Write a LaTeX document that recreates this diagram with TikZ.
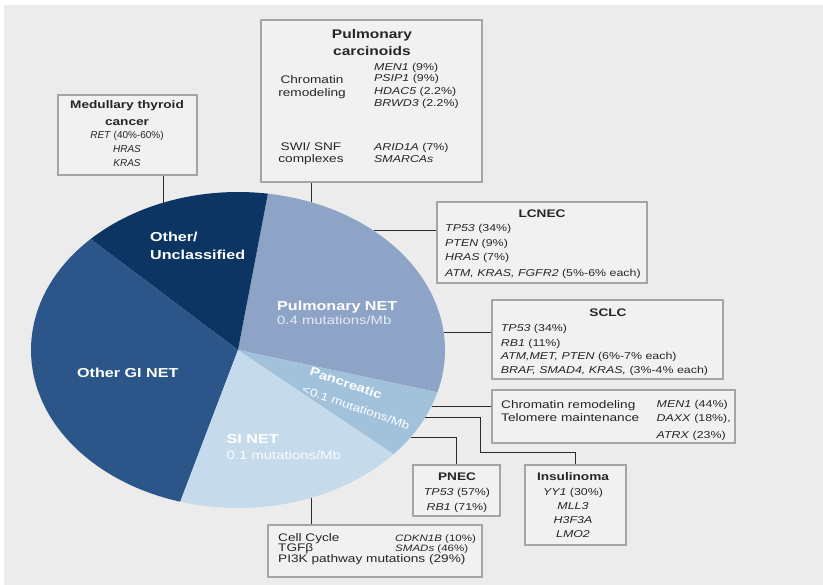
\documentclass[tikz,border=0pt]{standalone}
\usepackage{fontspec}
\setmainfont{Liberation Sans}[FakeStretch=1.24]
\newfontfamily\condfont{Liberation Sans}
\usetikzlibrary{shadows,calc}
\definecolor{bgc}{HTML}{ECECED}
\definecolor{boxfill}{HTML}{F1F1F1}
\definecolor{boxedge}{HTML}{A5A5A5}
\definecolor{txt}{HTML}{262626}
\definecolor{linec}{HTML}{2A2A2A}
\definecolor{cunc}{HTML}{0D3564}
\definecolor{cgi}{HTML}{2C5689}
\definecolor{cpulm}{HTML}{8EA4C6}
\definecolor{cpanc}{HTML}{A2C2DB}
\definecolor{csi}{HTML}{C5DBEB}
\definecolor{subc}{HTML}{E4ECF5}
\tikzset{
  box/.style={draw=boxedge, line width=1.8pt, fill=boxfill, inner sep=0,
    drop shadow={shadow xshift=0.8pt, shadow yshift=-0.8pt, opacity=0.25}},
  conn/.style={draw=linec, line width=0.9pt},
  tx/.style={inner sep=0, text=txt},
  body/.style={tx, font=\fontsize{10}{12}\selectfont},
  bodyl/.style={tx, font=\fontsize{11}{13}\selectfont},
  ttl/.style={tx, font=\fontsize{11}{13}\selectfont\bfseries},
  condb/.style={tx, font=\condfont\fontsize{10}{12}\selectfont},
  piebig/.style={inner sep=0, text=white, font=\fontsize{13}{15}\selectfont\bfseries},
  piesub/.style={inner sep=0, text=subc, font=\fontsize{12}{14}\selectfont},
}
\begin{document}
\begin{tikzpicture}[x=1pt,y=1pt]
\useasboundingbox (0,0) rectangle (823,-585);
\fill[white] (0,0) rectangle (823,-585);
\fill[bgc] (4,-5) rectangle (823,-585);

% ---- pie ----
\coordinate (C) at (238,-350);
\fill[cpulm] (C) -- ++(-15.5:207pt and 158pt) arc[start angle=-15.5, end angle=81.7, x radius=207pt, y radius=158pt] -- cycle;
\fill[cunc] (C) -- ++(81.7:207pt and 158pt) arc[start angle=81.7, end angle=135.4, x radius=207pt, y radius=158pt] -- cycle;
\fill[cgi] (C) -- ++(135.4:207pt and 158pt) arc[start angle=135.4, end angle=253.8, x radius=207pt, y radius=158pt] -- cycle;
\fill[csi] (C) -- ++(253.8:207pt and 158pt) arc[start angle=253.8, end angle=318.8, x radius=207pt, y radius=158pt] -- cycle;
\fill[cpanc] (C) -- ++(318.8:207pt and 158pt) arc[start angle=318.8, end angle=344.5, x radius=207pt, y radius=158pt] -- cycle;

% pie edge points for connectors
\coordinate (pmed) at ($(C)+(111.2:207pt and 158pt)$);
\coordinate (ppc)  at ($(C)+(69.1:207pt and 158pt)$);
\coordinate (plc)  at ($(C)+(48.9:207pt and 158pt)$);
\coordinate (psc)  at ($(C)+(6.5:207pt and 158pt)$);
\coordinate (ppa)  at ($(C)+(-20.8:207pt and 158pt)$);
\coordinate (pins) at ($(C)+(-25.1:207pt and 158pt)$);
\coordinate (ppn)  at ($(C)+(-33.4:207pt and 158pt)$);
\coordinate (pbot) at ($(C)+(-69.1:207pt and 158pt)$);
\coordinate (kink) at (480,-452);

% pie labels
\node[piebig, anchor=base west] (l1a) at (150,-241.5) {Other/};
\node[piebig, anchor=base west] (l1b) at (150,-259.5) {Unclassified};
\node[piebig, anchor=base west] (l2a) at (277,-310.4) {Pulmonary NET};
\node[piesub, anchor=base west] (l2b) at (277,-325) {0.4 mutations/Mb};
\node[piebig, anchor=base west] (l3) at (77,-377.4) {Other GI NET};
\node[piebig, anchor=base west] (l4a) at (226.5,-444) {SI NET};
\node[piesub, anchor=base west, text=white!92!csi] (l4b) at (226.5,-459.3) {0.1 mutations/Mb};
\node[inner sep=0, text=white, font=\fontsize{12}{14}\selectfont\bfseries, rotate=-19] (l5a) at (346,-383) {Pancreatic};
\node[inner sep=0, text=white, font=\fontsize{11}{13}\selectfont, rotate=-19] (l5b) at (356,-407.5) {\textless 0.1 mutations/Mb};

% ---- boxes ----
\node[box, minimum width=139, minimum height=80] (med) at (127.5,-135) {};
\node[box, minimum width=221, minimum height=162] (pc) at (371.5,-101) {};
\node[box, minimum width=210, minimum height=81] (lc) at (542,-242.5) {};
\node[box, minimum width=231, minimum height=79] (sc) at (607.5,-339.5) {};
\node[box, minimum width=243, minimum height=53] (ch) at (613.5,-416.5) {};
\node[box, minimum width=87, minimum height=51] (pn) at (456.5,-490.5) {};
\node[box, minimum width=101, minimum height=80] (ins) at (575.5,-505) {};
\node[box, minimum width=214, minimum height=52] (bot) at (375,-551) {};

% ---- connectors ----
\draw[conn] (pmed) -- (pmed |- med.south);
\draw[conn] (ppc) -- (ppc |- pc.south);
\draw[conn] (plc) -- (plc -| lc.west);
\draw[conn] (psc) -- (psc -| sc.west);
\draw[conn] (ppa) -- (ppa -| ch.west);
\draw[conn] (pins) -| (kink) -| (ins.north);
\draw[conn] (ppn) -| (pn.north);
\draw[conn] (pbot) -- (pbot |- bot.north);

% ---- Medullary thyroid cancer ----
\node[ttl, anchor=base] (m1) at (127,-109) {Medullary thyroid};
\node[ttl, anchor=base] (m2) at (127,-126) {cancer};
\node[condb, anchor=base] (m3) at (127,-138.6) {\textit{RET} (40\%-60\%)};
\node[condb, anchor=base] (m4) at (127,-152.6) {\textit{HRAS}};
\node[condb, anchor=base] (m5) at (127,-166.6) {\textit{KRAS}};

% ---- Pulmonary carcinoids ----
\node[tx, font=\fontsize{12.5}{14}\selectfont\bfseries, anchor=base] (c1) at (372,-38.5) {Pulmonary};
\node[tx, font=\fontsize{12.5}{14}\selectfont\bfseries, anchor=base] (c2) at (372,-56) {carcinoids};
\node[bodyl, anchor=base] (c3) at (312,-83.3) {Chromatin};
\node[bodyl, anchor=base] (c4) at (312,-96.7) {remodeling};
\node[bodyl, anchor=base] (c5) at (311,-150.7) {SWI/ SNF};
\node[bodyl, anchor=base] (c6) at (311,-163) {complexes};
\node[body, anchor=base west] (g1) at (374,-70.3) {\textit{MEN1} (9\%)};
\node[body, anchor=base west] (g2) at (374,-81.9) {\textit{PSIP1} (9\%)};
\node[body, anchor=base west] (g3) at (374,-94.3) {\textit{HDAC5} (2.2\%)};
\node[body, anchor=base west] (g4) at (374,-106.3) {\textit{BRWD3} (2.2\%)};
\node[body, anchor=base west] (g5) at (374,-150.3) {\textit{ARID1A} (7\%)};
\node[body, anchor=base west] (g6) at (374,-162.6) {\textit{SMARCAs}};

% ---- LCNEC ----
\node[ttl, anchor=base] (lct) at (542,-218) {LCNEC};
\node[body, anchor=base west] (lc1) at (445,-232) {\textit{TP53} (34\%)};
\node[body, anchor=base west] (lc2) at (445,-246.5) {\textit{PTEN} (9\%)};
\node[body, anchor=base west] (lc3) at (445,-261) {\textit{HRAS} (7\%)};
\node[body, anchor=base west] (lc4) at (445,-277) {\textit{ATM, KRAS, FGFR2} (5\%-6\% each)};

% ---- SCLC ----
\node[ttl, anchor=base] (sct) at (608,-317) {SCLC};
\node[body, anchor=base west] (sc1) at (500.7,-332) {\textit{TP53} (34\%)};
\node[body, anchor=base west] (sc2) at (500.7,-346.3) {\textit{RB1} (11\%)};
\node[body, anchor=base west] (sc3) at (500.7,-359.6) {\textit{ATM,MET, PTEN} (6\%-7\% each)};
\node[body, anchor=base west] (sc4) at (500.7,-373.6) {\textit{BRAF, SMAD4, KRAS,} (3\%-4\% each)};

% ---- Pancreatic ----
\node[bodyl, anchor=base west] (ch1) at (501,-408.3) {Chromatin remodeling};
\node[bodyl, anchor=base west] (ch2) at (501,-421.7) {Telomere maintenance};
\node[body, anchor=base west] (ch3) at (656.5,-407.9) {\textit{MEN1} (44\%)};
\node[body, anchor=base west] (ch4) at (656.5,-421.3) {\textit{DAXX} (18\%),};
\node[body, anchor=base west] (ch5) at (656.5,-438.6) {\textit{ATRX} (23\%)};

% ---- PNEC ----
\node[ttl, anchor=base] (pnt) at (457,-481) {PNEC};
\node[body, anchor=base] (pn1) at (457,-495.3) {\textit{TP53} (57\%)};
\node[body, anchor=base] (pn2) at (457,-510.3) {\textit{RB1} (71\%)};

% ---- Insulinoma ----
\node[ttl, anchor=base] (int) at (573,-481) {Insulinoma};
\node[body, anchor=base] (in1) at (573,-495.6) {\textit{YY1} (30\%)};
\node[body, anchor=base] (in2) at (573,-509.6) {\textit{MLL3}};
\node[body, anchor=base] (in3) at (573,-523.6) {\textit{H3F3A}};
\node[body, anchor=base] (in4) at (573,-537.6) {\textit{LMO2}};

% ---- SI NET box ----
\node[bodyl, anchor=base west] (b1) at (278,-541) {Cell Cycle};
\node[bodyl, anchor=base west] (b2) at (278,-551.3) {TGFβ};
\node[bodyl, anchor=base west] (b3) at (278,-562) {PI3K pathway mutations (29\%)};
\node[tx, font=\fontsize{9.3}{11}\selectfont, anchor=base west] (b4) at (395,-541) {\textit{CDKN1B} (10\%)};
\node[tx, font=\fontsize{9.3}{11}\selectfont, anchor=base west] (b5) at (395,-551.3) {\textit{SMADs} (46\%)};
\end{tikzpicture}
\end{document}
